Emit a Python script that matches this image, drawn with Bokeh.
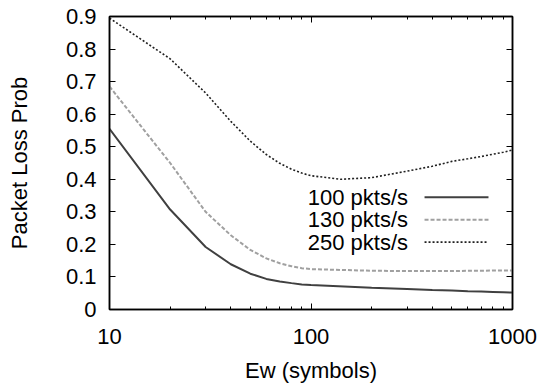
from bokeh.plotting import figure
from bokeh.models import (FixedTicker, LinearAxis, LogAxis, Range1d, Label,
                          CustomJSTickFormatter, BasicTickFormatter)
from bokeh.embed import file_html
from bokeh.resources import INLINE

# Packet loss probability against Ew (symbols), one series per packet rate
ew_100 = [10, 20, 30, 40, 50, 60, 70, 80, 90, 100, 200, 300, 400, 500, 600, 700, 800, 900, 1000]
loss_100 = [0.555, 0.307, 0.192, 0.139, 0.110, 0.094, 0.086, 0.081, 0.077, 0.075,
            0.067, 0.063, 0.060, 0.058, 0.056, 0.055, 0.054, 0.053, 0.052]

ew_130 = [10, 20, 30, 40, 50, 60, 70, 80, 90, 100, 200, 300, 400, 500, 600, 700, 800, 900, 1000]
loss_130 = [0.685, 0.450, 0.300, 0.228, 0.183, 0.157, 0.142, 0.133, 0.127, 0.124,
            0.119, 0.118, 0.118, 0.118, 0.119, 0.119, 0.120, 0.120, 0.120]

ew_250 = [10, 20, 30, 40, 50, 60, 70, 80, 90, 100, 140, 200, 300, 400, 500, 600, 700, 800, 900, 1000]
loss_250 = [0.895, 0.770, 0.665, 0.578, 0.517, 0.476, 0.449, 0.431, 0.419, 0.411,
            0.400, 0.405, 0.425, 0.440, 0.455, 0.463, 0.470, 0.477, 0.483, 0.490]

series_labels = ["100 pkts/s", "130 pkts/s", "250 pkts/s"]

x_major = [10, 100, 1000]
x_minor = [20, 30, 40, 50, 60, 70, 80, 90, 200, 300, 400, 500, 600, 700, 800, 900]
y_major = [0, 0.1, 0.2, 0.3, 0.4, 0.5, 0.6, 0.7, 0.8, 0.9]

FONT = "Liberation Sans"
FS = "22px"

p = figure(x_axis_type="log", frame_width=403, frame_height=293,
           min_border_left=109, min_border_right=31, min_border_top=16, min_border_bottom=76,
           output_backend="svg", toolbar_location=None,
           x_range=Range1d(10, 1000), y_range=Range1d(0, 0.9))
p.grid.visible = False
p.outline_line_color = "black"
p.outline_line_width = 1.5
p.background_fill_color = "white"
p.border_fill_color = "white"

xt = FixedTicker(ticks=x_major, minor_ticks=x_minor)
yt = FixedTicker(ticks=y_major)
yfmt = CustomJSTickFormatter(code="return tick == 0 ? '0' : tick.toFixed(1);")
blank = CustomJSTickFormatter(code="return '';")


def style_axis(ax, minor=True):
    ax.axis_line_color = "black"
    ax.axis_line_width = 1.5
    ax.major_tick_in = 6
    ax.major_tick_out = 0
    ax.major_tick_line_color = "black"
    ax.major_tick_line_width = 1
    if minor:
        ax.minor_tick_in = 3
        ax.minor_tick_out = 0
        ax.minor_tick_line_color = "black"
    else:
        ax.minor_tick_line_color = None
    ax.major_label_text_font = FONT
    ax.major_label_text_font_size = FS
    ax.major_label_text_color = "black"
    ax.axis_label_text_font = FONT
    ax.axis_label_text_font_size = FS
    ax.axis_label_text_font_style = "normal"
    ax.axis_label_text_color = "black"


xa = p.xaxis[0]
xa.ticker = xt
xa.formatter = BasicTickFormatter()
xa.axis_label = "Ew (symbols)"
style_axis(xa)
xa.major_label_standoff = 19
xa.axis_label_standoff = 11

ya = p.yaxis[0]
ya.ticker = yt
ya.formatter = yfmt
ya.axis_label = "Packet Loss Prob"
style_axis(ya, minor=False)
ya.major_label_standoff = 13
ya.axis_label_standoff = 31

# mirrored tick marks on the top and right edges of the frame, no labels
top = LogAxis(ticker=xt, formatter=blank, major_label_standoff=0)
style_axis(top)
top.major_label_text_font_size = "1px"
p.add_layout(top, "above")

right = LinearAxis(ticker=yt, formatter=blank, major_label_standoff=0)
style_axis(right, minor=False)
right.major_label_text_font_size = "1px"
p.add_layout(right, "right")

styles = [
    dict(color="#404040", width=2, dash="solid"),
    dict(color="#a0a0a0", width=2, dash="4 2"),
    dict(color="#202020", width=1.6, dash="2 2"),
]
xs_all = [ew_100, ew_130, ew_250]
ys_all = [loss_100, loss_130, loss_250]

# key rows: label on the left, line sample on the right
key_text_x = 303
key_line_x0, key_line_x1 = 366, 760
key_rows_y = [0.345, 0.276, 0.207]

for xs, ys, st, lab, ky in zip(xs_all, ys_all, styles, series_labels, key_rows_y):
    p.line(xs, ys, line_color=st["color"], line_width=st["width"], line_dash=st["dash"])
    p.segment(x0=[key_line_x0], y0=[ky], x1=[key_line_x1], y1=[ky],
              line_color=st["color"], line_width=st["width"], line_dash=st["dash"])
    p.add_layout(Label(x=key_text_x, y=ky, text=lab, text_align="right",
                       text_baseline="middle", text_font=FONT, text_font_size=FS,
                       text_color="black"))

open("out.html", "w").write(file_html(p, INLINE))
